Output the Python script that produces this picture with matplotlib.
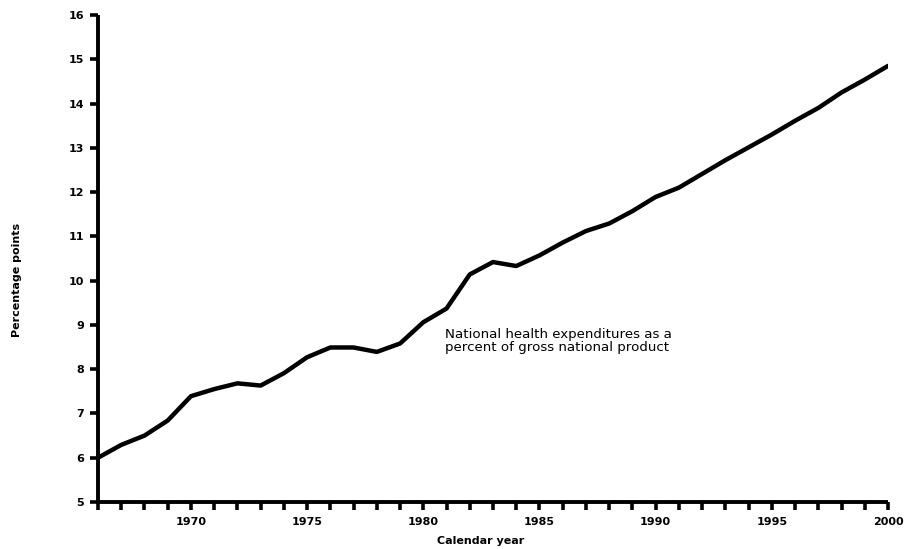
import matplotlib
matplotlib.use("Agg")
import matplotlib.pyplot as plt
from matplotlib.ticker import MultipleLocator

years = list(range(1966, 2001))
percent_gnp = [6.00, 6.29, 6.50, 6.84, 7.39, 7.55, 7.68, 7.63, 7.91, 8.27,
               8.49, 8.49, 8.39, 8.58, 9.06, 9.37, 10.14, 10.42, 10.33, 10.57,
               10.86, 11.12, 11.29, 11.57, 11.89, 12.10, 12.41, 12.72, 13.01, 13.30,
               13.61, 13.90, 14.25, 14.54, 14.85]
x_tick_labels = ["1970", "1975", "1980", "1985", "1990", "1995", "2000"]
y_ticks = list(range(5, 17))

plt.rcParams['font.family'] = ['DejaVu Sans']

fig = plt.figure(figsize=(9.05, 5.49), dpi=100)
ax = fig.add_axes([0.1083, 0.0856, 0.9812 - 0.1083, 0.9727 - 0.0856])

ax.plot(years, percent_gnp, color="black", lw=3.2, solid_capstyle="round",
        solid_joinstyle="round")

ax.set_xlim(1966, 2000)
ax.set_ylim(5, 16)
ax.set_xticks([int(t) for t in x_tick_labels])
ax.set_xticklabels(x_tick_labels)
ax.xaxis.set_minor_locator(MultipleLocator(1))
ax.set_yticks(y_ticks)
ax.set_yticklabels([str(v) for v in y_ticks])

for s in ["top", "right"]:
    ax.spines[s].set_visible(False)
for s in ["left", "bottom"]:
    ax.spines[s].set_linewidth(2.8)
    ax.spines[s].set_capstyle("butt")

ax.tick_params(axis="both", which="both", direction="out", width=2.6, length=6,
               labelsize=8)
ax.tick_params(axis="x", which="both", pad=5)
ax.tick_params(axis="y", pad=4)
for lab in ax.get_xticklabels() + ax.get_yticklabels():
    lab.set_fontweight("bold")

fig.text(481 / 905, 1 - 541 / 549, "Calendar year", ha="center", va="center",
         fontsize=8, fontweight="bold")
fig.text(17 / 905, 1 - 280 / 549, "Percentage points", rotation=90,
         va="center", ha="center", fontsize=8, fontweight="bold")

ax.text(1980.93, 8.64, "National health expenditures as a\npercent of gross national product",
        fontsize=9.6, va="center", ha="left", linespacing=1.05)

fig.savefig("out.png", dpi=100)
